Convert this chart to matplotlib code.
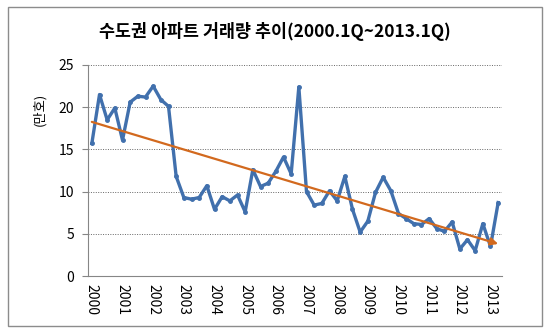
import numpy as np
import matplotlib.pyplot as plt
from matplotlib.patches import Rectangle

plt.rcParams['font.family'] = ['Noto Sans CJK KR', 'DejaVu Sans']

# 분기별 수도권 아파트 거래량 (만호), 2000.1Q 부터
volume = [15.7, 21.5, 18.5, 19.9, 16.1, 20.6, 21.3, 21.2, 22.5, 20.9,
          20.1, 11.8, 9.3, 9.1, 9.3, 10.7, 7.9, 9.4, 8.9, 9.6,
          7.6, 12.6, 10.6, 11.0, 12.4, 14.1, 12.1, 22.4, 10.0, 8.4,
          8.6, 10.1, 8.9, 11.8, 7.9, 5.2, 6.5, 9.9, 11.7, 10.1,
          7.4, 6.8, 6.2, 6.1, 6.8, 5.6, 5.3, 6.4, 3.2, 4.3,
          3.0, 6.2, 3.5, 8.7]
years = [str(y) for y in range(2000, 2014)]
title = '수도권 아파트 거래량 추이(2000.1Q~2013.1Q)'

x = np.arange(len(volume))
slope, intercept = np.polyfit(x, volume, 1)

fig = plt.figure(figsize=(5.5, 3.32), dpi=100)
fig.patches.append(Rectangle((8/550, 6/332), 534/550, 319/332, transform=fig.transFigure,
                             fill=False, edgecolor='#8c8c8c', linewidth=1.0))
ax = fig.add_axes([88/550, 56/332, 414/550, 211/332])

ax.plot(x, volume, color='#4170ad', linewidth=2.4, marker='o', markersize=2.5, zorder=3)

# 추세선 (선형)
x0, x1 = x[0], x[-1]
ax.annotate('', xy=(x1, slope*x1 + intercept), xytext=(x0, slope*x0 + intercept),
            arrowprops=dict(arrowstyle='-|>', color='#d2691e', lw=1.6, mutation_scale=11,
                            shrinkA=0, shrinkB=0), zorder=4)

ax.set_xlim(-0.5, len(volume) - 0.5)
ax.set_ylim(0, 25)
ax.set_yticks(range(0, 26, 5))
ax.set_xticks(range(0, len(volume), 4))
ax.set_xticklabels(years, rotation=-90, fontsize=10)
ax.tick_params(axis='y', labelsize=10, length=4, color='#868686', pad=6)
ax.tick_params(axis='x', length=0, pad=6)

ax.grid(axis='y', linestyle=(0, (1, 1.5)), color='#666666', linewidth=0.7)
ax.set_axisbelow(True)
for s in ['top', 'right']:
    ax.spines[s].set_visible(False)
for s in ['left', 'bottom']:
    ax.spines[s].set_color('#868686')

fig.text(0.5, 0.905, title, ha='center', va='center', fontsize=12.5, fontweight='bold')
fig.text(40/550, 0.67, '(만호)', rotation=90, ha='center', va='center', fontsize=9.5)

fig.savefig('out.png', dpi=100)
